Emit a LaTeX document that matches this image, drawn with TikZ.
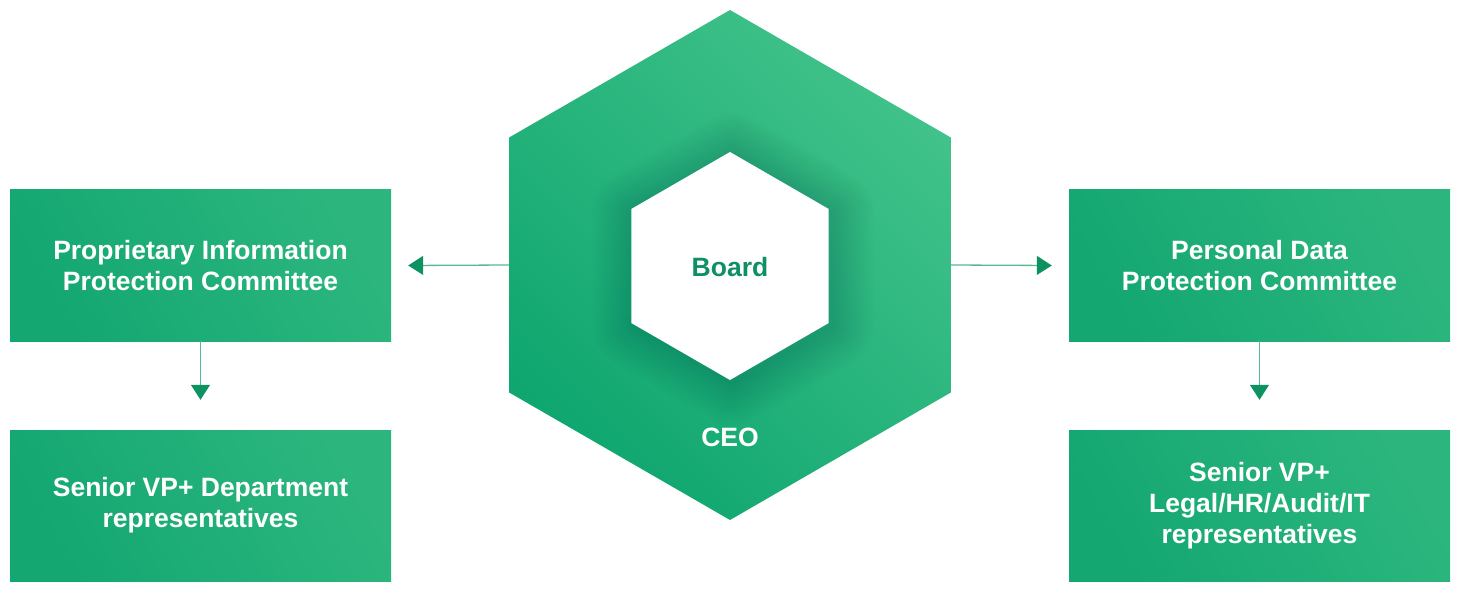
\documentclass[tikz,border=0pt]{standalone}
\usepackage{fontspec}
\setmainfont{Liberation Sans}
\usepackage{tikz}
\usetikzlibrary{positioning,shapes.geometric,arrows.meta}

\definecolor{hexdark}{HTML}{0FA66F}
\definecolor{hexlight}{HTML}{40C28A}
\definecolor{boxdark}{HTML}{14A772}
\definecolor{boxlight}{HTML}{2CB67E}
\definecolor{linegreen}{HTML}{55B994}
\definecolor{tipgreen}{HTML}{0D9262}
\definecolor{boardgreen}{HTML}{0E9063}

\tikzset{
  unitbox/.style={rectangle, minimum width=381pt, minimum height=151pt, inner sep=0pt,
    bottom color=boxdark, top color=boxlight, shading angle=-60,
    text=white, align=center, font=\fontsize{26.5}{31}\selectfont\bfseries},
  hexshape/.style={regular polygon, regular polygon sides=6, shape border rotate=30, inner sep=0pt},
  flowline/.style={linegreen, line width=1.3pt,
    -{Triangle[width=19pt,length=15pt,color=tipgreen]}}
}

\begin{document}
\begin{tikzpicture}[x=1pt,y=-1pt]
\useasboundingbox (0,0) rectangle (1460,591);
% hexagons in the middle
\node[hexshape, minimum size=510pt, bottom color=hexdark, top color=hexlight, shading angle=-45] (ceo) at (730,265) {};
\foreach \w in {84,78,...,6}
  \node[hexshape, minimum size=228pt, draw=black, opacity=0.009, line width=\w pt, line join=round] at (733,269) {};
\node[hexshape, minimum size=228pt, fill=white] (board) at (730,266) {};
\node[text=boardgreen, font=\fontsize{26.5}{31}\selectfont\bfseries] at (730,267) {Board};
\node[text=white, font=\fontsize{26.5}{31}\selectfont\bfseries] (ceotext) at (730,437) {CEO};

% committees
\node[unitbox] (pipc) at (200.5,265.5) {Proprietary Information\\Protection Committee};
\node[unitbox] (pipr) at (200.5,505.5) {Senior VP+ Department\\representatives};
\node[unitbox] (pdpc) at (1259.5,265.5) {Personal Data\\Protection Committee};
\node[unitbox] (pdpr) at (1259.5,505.5) {Senior VP+\\Legal/HR/Audit/IT\\representatives};

% arrows
\draw[flowline] (ceo.west) -- ([xshift=17pt]pipc.east);
\draw[flowline] (ceo.east) -- ([xshift=-17pt]pdpc.west);
\draw[flowline] (pipc.south) -- ([yshift=30pt]pipr.north);
\draw[flowline] (pdpc.south) -- ([yshift=30pt]pdpr.north);
\end{tikzpicture}
\end{document}
